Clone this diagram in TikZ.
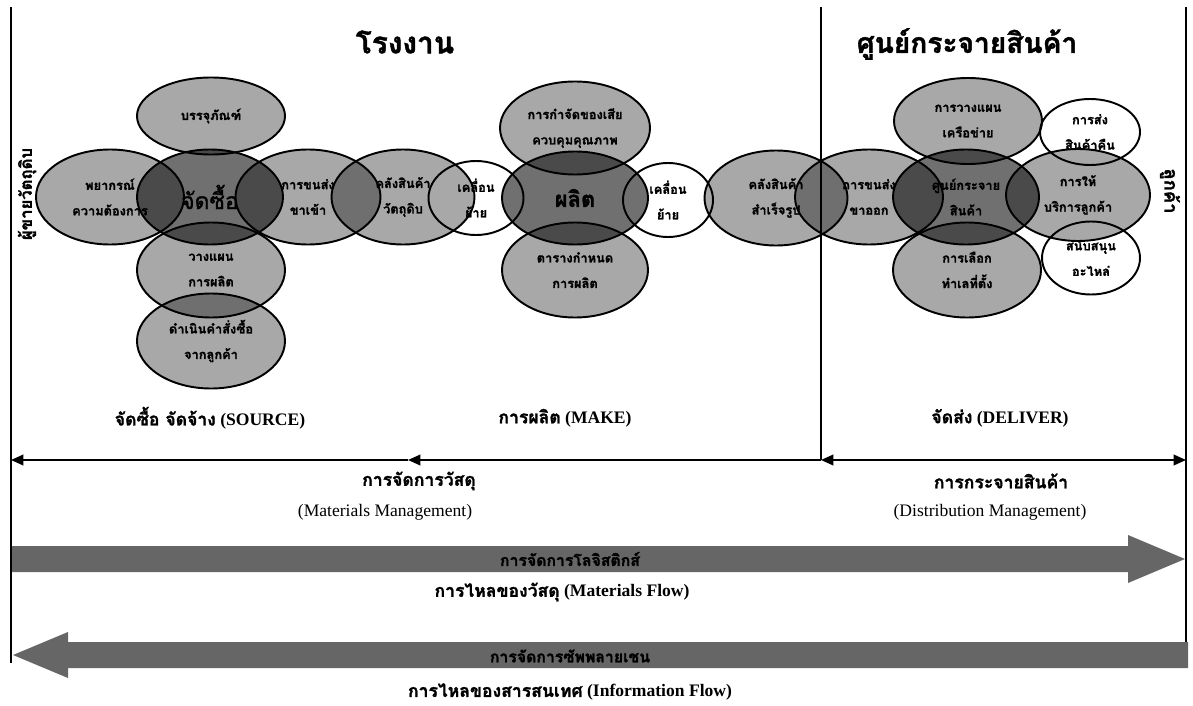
\documentclass[tikz,border=0pt]{standalone}
\usepackage{fontspec}
\setmainfont{Liberation Serif}
\newfontfamily\thai[Script=Thai, FakeBold=1.4]{Loma}
\usetikzlibrary{shapes.geometric,arrows.meta}

\begin{document}
\begin{tikzpicture}[
                x=0.02cm, y=-0.02cm,
                every node/.append style={inner sep=0pt, align=center},
                flow/.tip={Triangle[length=7pt,width=6pt]},
                rule/.style={line width=1.1pt},
                ell/.style={ellipse, draw, line width=1.1pt, fill=black, fill opacity=.34, text opacity=1,
                    minimum width=146*0.02cm, minimum height=95*0.02cm,
                    font=\thai\bfseries\fontsize{7.3}{14.5}\selectfont},
                core/.style={ell, fill opacity=.56},
                hollow/.style={ell, fill=none},
                sized/.style 2 args={minimum width=#1*0.02cm, minimum height=#2*0.02cm},
                caption/.style={font=\bfseries\fontsize{10}{12}\selectfont},
                band/.style={fill=black!60}
            ]
                \useasboundingbox (0,0) rectangle (1193,706);
                \coordinate (lt) at (11,7);
                \coordinate (lb) at (11,663);
                \coordinate (mt) at (821,7);
                \coordinate (mb) at (821,460);
                \coordinate (rt) at (1186,7);
                \coordinate (rb) at (1186,644);
                \coordinate (ml) at (11,460);
                \coordinate (mm) at (408,460);
                \coordinate (mr) at (1186,460);
                \draw[rule] (lt) -- (lb);
                \draw[rule] (mt) -- (mb);
                \draw[rule] (rt) -- (rb);
                \draw[rule,-flow] (mb) -- (mm);
                \draw[rule,-flow] (mm) -- (ml);
                \draw[rule,flow-flow] (mb) -- (mr);

                \node[font=\thai\bfseries\fontsize{17}{20}\selectfont] (factory) at (405,42) {โรงงาน};
                \node[font=\thai\bfseries\fontsize{16}{20}\selectfont] (dcenter) at (967,44) {ศูนย์กระจายสินค้า};
                \node[rotate=90, font=\thai\bfseries\fontsize{9.5}{12}\selectfont] (vendor) at (27,194) {ผู้ขายวัตถุดิบ};
                \node[rotate=-90, font=\thai\bfseries\fontsize{10.5}{12}\selectfont] (customer) at (1170,191) {ลูกค้า};

                \node[ell, sized={148}{77}] (banju) at (211,116) {บรรจุภัณฑ์};
                \node[ell, sized={148}{95}] (pyakorn) at (110,197) {พยากรณ์\\ความต้องการ};
                \node[ell, sized={145}{95}] (khonkhao) at (308,197) {การขนส่ง\\ขาเข้า};
                \node[ell, sized={148}{95}] (wangphaen) at (211,270) {วางแผน\\การผลิต};
                \node[ell, sized={148}{95}] (damnoen) at (211,341) {ดำเนินคำสั่งซื้อ\\จากลูกค้า};
                \node[core, font=\thai\fontsize{13}{15}\selectfont] (jadsue) at (210,197) {จัดซื้อ};

                \node[ell, sized={143}{95}] (khlangdip) at (403,197) {คลังสินค้า\\วัตถุดิบ};
                \node[ell, sized={150}{93}] (kamjat) at (575,128) {การกำจัดของเสีย\\ควบคุมคุณภาพ};
                \node[ell] (tarang) at (575,270) {ตารางกำหนด\\การผลิต};
                \node[core, sized={146}{93}, font=\thai\bfseries\fontsize{12.5}{15}\selectfont] (phalit) at (575,198) {ผลิต};
                \node[hollow, sized={95}{74}] (khluean) at (476,198) {เคลื่อน\\ย้าย};
                \node[hollow, sized={90}{74}] (yai) at (668,200) {เคลื่อน\\ย้าย};
                \node[ell, sized={143}{95}] (khlangsamret) at (776,198) {คลังสินค้า\\สำเร็จรูป};

                \node[ell, sized={148}{95}] (khonok) at (869,197) {การขนส่ง\\ขาออก};
                \node[ell, sized={148}{86}] (khruea) at (968,121) {การวางแผน\\เครือข่าย};
                \node[ell, sized={148}{95}] (lueak) at (967,270) {การเลือก\\ทำเลที่ตั้ง};
                \node[ell, sized={144}{92}] (borikan) at (1078,195) {การให้\\บริการลูกค้า};
                \node[core] (soon) at (966,197) {ศูนย์กระจาย\\สินค้า};
                \node[hollow, sized={100}{66}] (songkhuen) at (1090,132) {การส่ง\\สินค้าคืน};
                \node[hollow, sized={98}{73}] (sanap) at (1091,258) {สนับสนุน\\อะไหล่};

                \node[caption] (source) at (210,418) {{\thai จัดซื้อ จัดจ้าง} (SOURCE)};
                \node[caption] (make) at (565,418) {{\thai การผลิต} (MAKE)};
                \node[caption] (deliver) at (1000,418) {{\thai จัดส่ง} (DELIVER)};
                \node[caption] (matman) at (419,481) {\thai การจัดการวัสดุ};
                \node[font=\fontsize{10}{12}\selectfont] (matmaneng) at (385,512) {(Materials Management)};
                \node[caption] (distman) at (1001,481) {\thai การกระจายสินค้า};
                \node[font=\fontsize{10}{12}\selectfont] (distmaneng) at (990,512) {(Distribution Management)};

                \fill[band] (12,546) -- (1128,546) -- (1128,535) -- (1185,559) -- (1128,583) -- (1128,572) -- (12,572) -- cycle;
                \fill[band] (1188,642) -- (68,642) -- (68,632) -- (13,655) -- (68,678) -- (68,668) -- (1188,668) -- cycle;
                \node[caption, font=\thai\bfseries\fontsize{9}{12}\selectfont] (logis) at (570,559) {การจัดการโลจิสติกส์};
                \node[caption] (matflow) at (562,592) {{\thai การไหลของวัสดุ} (Materials Flow)};
                \node[caption, font=\thai\bfseries\fontsize{9}{12}\selectfont] (supply) at (570,656) {การจัดการซัพพลายเชน};
                \node[caption] (infoflow) at (570,692) {{\thai การไหลของสารสนเทศ} (Information Flow)};
            \end{tikzpicture}
\end{document}
